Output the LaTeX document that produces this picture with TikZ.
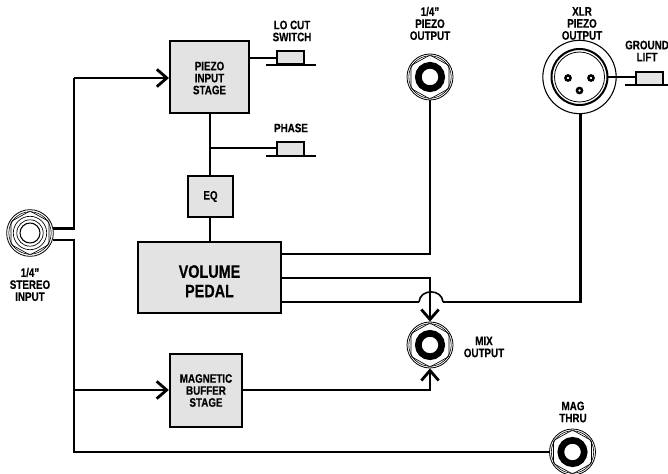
\documentclass[tikz,border=0pt]{standalone}
\usepackage{fontspec}
\setmainfont{Liberation Sans}[BoldFeatures={FakeStretch=0.8,FakeBold=0.3}]
\usetikzlibrary{arrows.meta,calc}
\tikzset{x=0.75pt,y=-0.75pt,
 wire/.style={line width=2.1pt,line join=miter},
 thinwire/.style={line width=1.6pt},
 arrowwire/.style={wire,-{Straight Barb[length=7.5pt,width=13pt,line width=2.1pt]}},
 block/.style={draw=black,line width=1.8pt,fill=black!11,align=center,font=\bfseries\fontsize{9.2}{9}\selectfont,inner sep=0pt},
 switchbox/.style={draw=black,line width=1.4pt,fill=black!11,minimum width=20pt,minimum height=10pt,inner sep=0pt},
 ground/.style={line width=1pt},
 lbl/.style={align=center,font=\bfseries\fontsize{9.2}{9}\selectfont,inner sep=0pt},
 jackbody/.style={circle,draw=black,line width=0.6pt,fill=white,minimum size=34.5pt,inner sep=0pt},
}
\newcommand{\hexnut}[1]{%
 \draw[line width=0.45pt] (#1) circle[radius=21.2];
 \draw[line width=0.5pt,rounded corners=1pt] ($(#1)+(0,-22)$) -- ($(#1)+(19,-11.5)$) -- ($(#1)+(19,11.5)$) -- ($(#1)+(0,22)$) -- ($(#1)+(-19,11.5)$) -- ($(#1)+(-19,-11.5)$) -- cycle;
}
\newcommand{\monojack}[2]{%
 \node[jackbody] (#1) at (#2) {};
 \hexnut{#1}
 \draw[line width=5pt] (#1) circle[radius=11.7];
}
\begin{document}
\begin{tikzpicture}
\useasboundingbox (0,0) rectangle (668,474);
% blocks
\node[block,minimum width=59pt,minimum height=54pt] (piezo) at (209.5,77) {\rule{0pt}{8pt}PIEZO\\INPUT\\STAGE};
\node[block,minimum width=33.75pt,minimum height=30.75pt] (eq) at (210.5,196.5) {EQ};
\node[block,minimum width=107pt,minimum height=53.5pt,font=\bfseries\fontsize{13.5}{14.6}\selectfont] (vol) at (209.5,277.5) {\rule{0pt}{15pt}VOLUME\\PEDAL};
\node[block,minimum width=54pt,minimum height=54.75pt] (mag) at (206,390.5) {MAGNETIC\\BUFFER\\STAGE};
% jacks
\node[jackbody,minimum size=35pt] (stereo) at (30,233) {};
\hexnut{stereo}
\draw[line width=0.5pt] (stereo) circle[radius=16.7] (stereo) circle[radius=13.2];
\draw[line width=0.8pt] (stereo) circle[radius=10];
\monojack{pout}{430,77}
\monojack{mix}{430,345}
\monojack{mag thru}{572.5,452}
\node[circle,draw=black,line width=0.8pt,fill=white,minimum size=55pt,inner sep=0pt] (xlr) at (579.5,77) {};
\draw[line width=1.5pt] (xlr) circle[radius=28];
\draw[line width=0.6pt] (xlr) circle[radius=25];
\foreach \a/\b in {-11.5/1,11.5/1,0/13.5}
  \draw[line width=1.8pt] ($(xlr)+(\a,\b)$) circle[radius=2.6];
% switches
\node[switchbox] (lo) at (290.5,57.5) {};
\node[switchbox] (ph) at (290.5,149) {};
\node[switchbox] (gl) at (649.5,78.5) {};
\coordinate (lo l) at (266,65); \coordinate (lo r) at (316,65);
\coordinate (ph l) at (266,156); \coordinate (ph r) at (316,156);
\coordinate (gl l) at (625,85); \coordinate (gl r) at (668,85);
\draw[ground] (lo l)--(lo r) (ph l)--(ph r) (gl l)--(gl r);
% junctions
\coordinate (s1) at (53,228.5); \coordinate (s2) at (53,240);
\coordinate (t1) at (74,228.5); \coordinate (t2) at (74,240);
\coordinate (up) at (74,78); \coordinate (br) at (74,390); \coordinate (bot) at (74,452);
\coordinate (ph j) at (210,148);
\coordinate (lo j) at (249,58); \coordinate (gl j) at (608,77);
% wires
\draw[wire] (s1) -- (t1) -- (up);
\draw[arrowwire] (up) -- (piezo.west |- up);
\draw[wire] (s2) -- (t2) -- (bot) -- (mag thru.west |- bot);
\draw[arrowwire] (br) -- (mag.west |- br);
\draw[wire] (piezo.south -| ph j) -- (eq.north -| ph j);
\draw[wire] (eq.south -| ph j) -- (vol.north -| ph j);
\draw[wire] (ph j) -- (ph.west |- ph j);
\draw[wire] (lo j) -- (lo.west |- lo j);
\draw[wire] (gl j) -- (gl.west |- gl j);
\coordinate (v1) at (vol.east |- 0,254); \coordinate (v2) at (vol.east |- 0,278); \coordinate (v3) at (vol.east |- 0,302);
\coordinate (c1) at (pout.south |- v1);
\draw[thinwire] (v1) -- (c1) -- (pout.south);
\coordinate (c2) at (mix.north |- v2);
\draw[arrowwire] (v2) -- (c2) -- (mix.north);
\coordinate (m1) at (mag.east |- 0,390);
\coordinate (c3) at (mix.south |- m1);
\draw[arrowwire] (m1) -- (c3) -- (mix.south);
\coordinate (h1) at (419,302); \coordinate (h2) at (443,302); \coordinate (x1) at (580.5,302);
\draw[wire] (v3) -- (h1) (h2) -- (x1) -- (xlr.south -| x1);
\draw[line width=1.2pt] (h1) .. controls (420,288.5) and (442,288.5) .. (h2);
% labels
\node[lbl] (l1) at (292,31) {LO CUT\\SWITCH};
\node[lbl] (l2) at (291,128) {PHASE};
\node[lbl] (l3) at (430,23.5) {1/4"\\PIEZO\\OUTPUT};
\node[lbl] (l4) at (582,23.5) {XLR\\PIEZO\\OUTPUT};
\node[lbl] (l5) at (647,51) {GROUND\\LIFT};
\node[lbl] (l6) at (30,284.5) {1/4"\\STEREO\\INPUT};
\node[lbl] (l7) at (484,347) {MIX\\OUTPUT};
\node[lbl] (l8) at (573,412) {MAG\\THRU};
\end{tikzpicture}
\end{document}
